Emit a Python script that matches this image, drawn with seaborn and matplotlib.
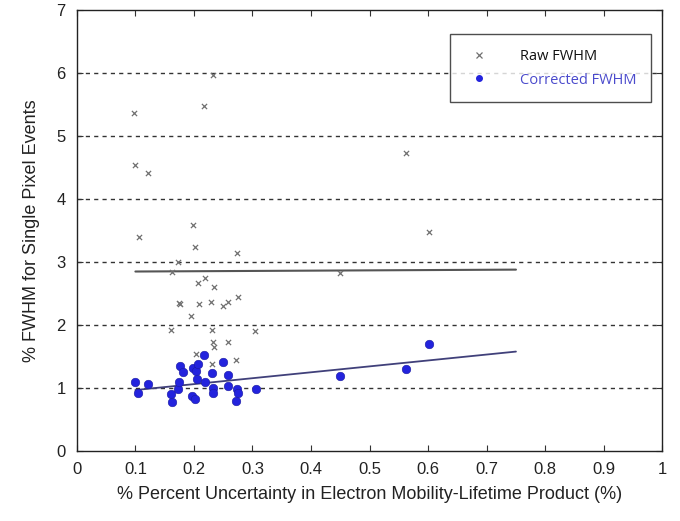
import numpy as np
import pandas as pd
import matplotlib
matplotlib.use("Agg")
import matplotlib.pyplot as plt
import seaborn as sns
from matplotlib.lines import Line2D

# ---- data ----
raw_x = [0.097, 0.100, 0.121, 0.107, 0.162, 0.161, 0.173, 0.175, 0.176, 0.198,
         0.201, 0.195, 0.204, 0.207, 0.209, 0.218, 0.219, 0.229, 0.231, 0.231,
         0.232, 0.232, 0.235, 0.235, 0.249, 0.258, 0.258, 0.271, 0.274, 0.275,
         0.305, 0.450, 0.563, 0.601]
raw_y = [5.37, 4.54, 4.42, 3.40, 2.85, 1.92, 3.00, 2.35, 2.33, 3.59,
         3.24, 2.14, 1.54, 2.67, 2.33, 5.48, 2.74, 2.37, 1.92, 1.39,
         5.97, 1.73, 2.60, 1.66, 2.30, 2.37, 1.73, 1.44, 3.14, 2.44,
         1.91, 2.82, 4.73, 3.47]

corr_x = [0.099, 0.104, 0.122, 0.161, 0.163, 0.172, 0.175, 0.176, 0.181, 0.196,
          0.201, 0.199, 0.203, 0.207, 0.218, 0.205, 0.219, 0.231, 0.232, 0.233,
          0.250, 0.258, 0.258, 0.273, 0.276, 0.271, 0.306, 0.450, 0.563, 0.601]
corr_y = [1.09, 0.93, 1.07, 0.90, 0.78, 0.98, 1.09, 1.35, 1.25, 0.88,
          0.82, 1.32, 1.27, 1.38, 1.53, 1.14, 1.10, 1.24, 1.01, 0.92,
          1.41, 1.21, 1.03, 0.99, 0.93, 0.80, 0.98, 1.19, 1.31, 1.70]

# trend lines (endpoints)
fit_x = [0.10, 0.75]
raw_fit_y = [2.85, 2.88]
corr_fit_y = [0.97, 1.58]

x_ticks = [0, 0.1, 0.2, 0.3, 0.4, 0.5, 0.6, 0.7, 0.8, 0.9, 1]
x_tick_labels = ["0", "0.1", "0.2", "0.3", "0.4", "0.5", "0.6", "0.7", "0.8", "0.9", "1"]
y_ticks = [0, 1, 2, 3, 4, 5, 6, 7]

raw_df = pd.DataFrame({"x": raw_x, "y": raw_y})
corr_df = pd.DataFrame({"x": corr_x, "y": corr_y})
fit_df = pd.DataFrame({"x": fit_x, "raw": raw_fit_y, "corr": corr_fit_y})

sns.set_style("white")
plt.rcParams["font.family"] = ["Liberation Sans", "DejaVu Sans"]

fig = plt.figure(figsize=(6.8, 5.21), dpi=100)
ax = fig.add_axes([0.113, 0.134, 0.861, 0.847])

# grid lines
for v in y_ticks[1:-1]:
    ax.axhline(v, color="#333333", lw=1.0, ls=(0, (3, 3)), zorder=0)

sns.lineplot(data=fit_df, x="x", y="raw", ax=ax, color="#555555", lw=1.5, zorder=2)
sns.lineplot(data=fit_df, x="x", y="corr", ax=ax, color="#40407a", lw=1.3, zorder=2)

sns.scatterplot(data=raw_df, x="x", y="y", ax=ax, marker="x", color="#707070",
                s=14, linewidth=0.9, zorder=3)
sns.scatterplot(data=corr_df, x="x", y="y", ax=ax, marker="o", color="#2323dd",
                s=38, edgecolor="#1a1aa0", linewidth=0.4, zorder=4)

ax.set_xlim(0, 1)
ax.set_ylim(0, 7)
ax.set_xticks(x_ticks)
ax.set_xticklabels(x_tick_labels)
ax.set_yticks(y_ticks)
ax.tick_params(axis="both", direction="in", length=4, width=0.8, color="#333333",
               labelsize=12, pad=8, top=True, right=True, bottom=True, left=True,
               labelcolor="#222222")
for s in ax.spines.values():
    s.set_visible(True)
    s.set_color("#222222")
    s.set_linewidth(1.0)

ax.set_xlabel("% Percent Uncertainty in Electron Mobility-Lifetime Product (%)",
              fontsize=13, color="#222222", labelpad=6)
ax.set_ylabel("% FWHM for Single Pixel Events", fontsize=13, color="#222222", labelpad=12)

handles = [
    Line2D([], [], marker="x", ls="none", color="#707070", markersize=5, markeredgewidth=0.9),
    Line2D([], [], marker="o", ls="none", color="#2323dd", markersize=4),
]
leg = ax.legend(handles, ["Raw FWHM", "Corrected FWHM"], loc="upper right",
                bbox_to_anchor=(0.98, 0.945), frameon=True, fancybox=False,
                edgecolor="#222222", fontsize=10.5, borderpad=1.0, handletextpad=1.8,
                labelspacing=0.6, borderaxespad=0,
                prop={"family": ["Open Sans", "DejaVu Sans"], "size": 10.5})
leg.get_frame().set_linewidth(1.0)
leg.get_texts()[0].set_color("#111111")
leg.get_texts()[1].set_color("#4a4acc")

fig.savefig("out.png", dpi=100)
